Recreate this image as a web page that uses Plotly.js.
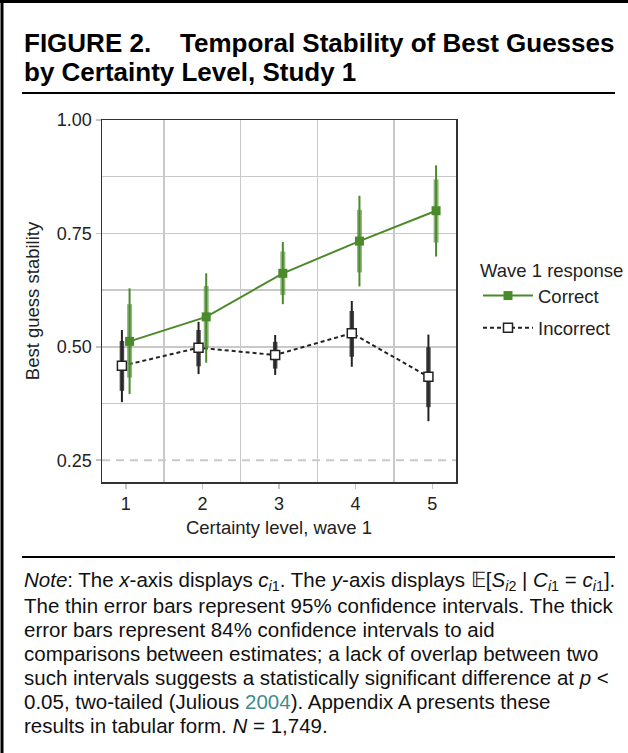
<!DOCTYPE html>
<html>
<head>
<meta charset="utf-8">
<script src="https://cdn.plot.ly/plotly-3.0.1.min.js"></script>
<style>html,body{margin:0;padding:0;background:#fff;}#chart{width:628px;height:753px;}</style>
</head>
<body>
<div id="chart"></div>
<script>
// ---- data ----
const certaintyLevels = [1, 2, 3, 4, 5];
const tickLabelsX = ["1", "2", "3", "4", "5"];
const tickValsY = [0.25, 0.50, 0.75, 1.00];
const tickLabelsY = ["0.25", "0.50", "0.75", "1.00"];

const correctMean  = [0.512, 0.566, 0.662, 0.733, 0.800];
const correctLo95  = [0.396, 0.465, 0.594, 0.633, 0.699];
const correctHi95  = [0.629, 0.662, 0.731, 0.833, 0.900];
const correctLo84  = [0.432, 0.498, 0.614, 0.664, 0.730];
const correctHi84  = [0.594, 0.634, 0.710, 0.802, 0.869];

const incorrectMean = [0.458, 0.498, 0.482, 0.530, 0.434];
const incorrectLo95 = [0.378, 0.440, 0.438, 0.456, 0.336];
const incorrectHi95 = [0.537, 0.555, 0.526, 0.601, 0.527];
const incorrectLo84 = [0.403, 0.457, 0.452, 0.478, 0.367];
const incorrectHi84 = [0.513, 0.537, 0.511, 0.579, 0.499];

const dodge = 0.05;

// ---- layout geometry ----
const W = 628, H = 753;
const L = 102, R = 456, T = 120, B = 482;
const PW = R - L, PH = B - T;
const px = x => (x - L) / PW;
const py = y => (B - y) / PH;

const green = "#4b8a2b";
const greenThick = "rgba(75,138,43,0.62)";
const dark = "#222222";
const darkThick = "rgba(40,40,40,0.85)";

const xCorrect = certaintyLevels.map(v => v + dodge);
const xIncorrect = certaintyLevels.map(v => v - dodge);
const diffUp = (hi, m) => hi.map((h, i) => h - m[i]);
const diffDn = (lo, m) => lo.map((l, i) => m[i] - l);

function errTrace(x, m, lo, hi, color, thick) {
  return {
    type: "scatter", mode: "markers", x: x, y: m,
    marker: {opacity: 0, size: 2}, showlegend: false, hoverinfo: "skip",
    error_y: {type: "data", symmetric: false, array: diffUp(hi, m), arrayminus: diffDn(lo, m),
      color: color, thickness: thick, width: 0}
  };
}

const traces = [
  errTrace(xIncorrect, incorrectMean, incorrectLo95, incorrectHi95, dark, 2),
  errTrace(xIncorrect, incorrectMean, incorrectLo84, incorrectHi84, darkThick, 4.5),
  {
    type: "scatter", mode: "lines+markers", name: "Incorrect", legendrank: 2, legendgroup: "inc",
    x: xIncorrect, y: incorrectMean,
    line: {color: dark, width: 2, dash: "4px,3px"},
    marker: {symbol: "square", size: 9, color: "#ffffff", line: {color: dark, width: 1.5}}
  },
  errTrace(xCorrect, correctMean, correctLo95, correctHi95, green, 2),
  errTrace(xCorrect, correctMean, correctLo84, correctHi84, greenThick, 5),
  {
    type: "scatter", mode: "lines+markers", name: "Correct", legendrank: 1, legendgroup: "cor",
    x: xCorrect, y: correctMean,
    line: {color: green, width: 2},
    marker: {symbol: "square", size: 9, color: green}
  }
];

const font = "Liberation Sans, Arial, Helvetica, sans-serif";
const gridColor = "#c9c9c9";

const noteLines = [
  "<i>Note</i>: The <i>x</i>-axis displays <i>c</i><sub><i>i</i>1</sub>. The <i>y</i>-axis displays 𝔼[<i>S</i><sub><i>i</i>2</sub> | <i>C</i><sub><i>i</i>1</sub> = <i>c</i><sub><i>i</i>1</sub>].",
  "The thin error bars represent 95% confidence intervals. The thick",
  "error bars represent 84% confidence intervals to aid",
  "comparisons between estimates; a lack of overlap between two",
  "such intervals suggests a statistically significant difference at <i>p</i> <",
  "0.05, two-tailed (Julious <span style='color:#3f8c8c'>2004</span>). Appendix A presents these",
  "results in tabular form. <i>N</i> = 1,749."
];
const noteY = [581, 605, 629, 653, 677, 701, 725];

const annotations = [
  {text: "<b>FIGURE 2.    Temporal Stability of Best Guesses</b>", x: px(22), y: py(43), xref: "paper", yref: "paper",
   xanchor: "left", yanchor: "middle", showarrow: false, font: {family: font, size: 26, color: "#000"}},
  {text: "<b>by Certainty Level, Study 1</b>", x: px(22), y: py(72), xref: "paper", yref: "paper",
   xanchor: "left", yanchor: "middle", showarrow: false, font: {family: font, size: 26, color: "#000"}}
].concat(noteLines.map((t, i) => ({
  text: t, x: px(22), y: py(noteY[i]), xref: "paper", yref: "paper",
  xanchor: "left", yanchor: "middle", showarrow: false, font: {family: font, size: 20.5, color: "#111"}
})));

const shapes = [
  {type: "line", xref: "paper", yref: "paper", x0: px(0), x1: px(628), y0: py(1.5), y1: py(1.5), line: {color: "#000", width: 3}},
  {type: "line", xref: "paper", yref: "paper", x0: px(2), x1: px(2), y0: py(0), y1: py(753), line: {color: "#000", width: 3}},
  {type: "line", xref: "paper", yref: "paper", x0: px(22), x1: px(615), y0: py(93), y1: py(93), line: {color: "#000", width: 2}},
  {type: "line", xref: "paper", yref: "paper", x0: px(22), x1: px(615), y0: py(557), y1: py(557), line: {color: "#000", width: 2}},
  {type: "line", xref: "paper", yref: "y", x0: 0, x1: 1, y0: 0.25, y1: 0.25, layer: "below",
   line: {color: gridColor, width: 2, dash: "8px,6px"}}
];

const layout = {
  width: W, height: H,
  margin: {l: L, r: W - R, t: T, b: H - B, pad: 0, autoexpand: false},
  paper_bgcolor: "#fff", plot_bgcolor: "#fff",
  font: {family: font, size: 17, color: "#222"},
  showlegend: true,
  xaxis: {
    range: [0.69, 5.31], tickvals: certaintyLevels, ticktext: tickLabelsX,
    showgrid: false, zeroline: false, automargin: false,
    ticks: "outside", ticklen: 5, tickwidth: 1.5, tickcolor: "#c4c4c4",
    showline: true, mirror: true, linecolor: "#333", linewidth: 1.5,
    tickfont: {family: font, size: 18, color: "#222"},
    title: {text: "Certainty level, wave 1", font: {family: font, size: 18.5, color: "#222"}, standoff: 8},
    minor: {tickvals: [1.5, 2.5, 3.5, 4.5], showgrid: true, gridcolor: gridColor, gridwidth: 1.5, ticklen: 0}
  },
  yaxis: {
    range: [0.202, 1.0], tickvals: tickValsY, ticktext: tickLabelsY,
    showgrid: false, zeroline: false, automargin: false,
    ticks: "outside", ticklen: 5, tickwidth: 1.5, tickcolor: "#c4c4c4",
    showline: true, mirror: true, linecolor: "#333", linewidth: 1.5,
    tickfont: {family: font, size: 18, color: "#222"},
    title: {text: "Best guess stability", font: {family: font, size: 18.5, color: "#222"}, standoff: 12},
    minor: {tickvals: [0.375, 0.5, 0.625, 0.75, 0.875], showgrid: true, gridcolor: gridColor, gridwidth: 1.5, ticklen: 0}
  },
  legend: {
    x: px(478), y: py(253), xanchor: "left", yanchor: "top",
    traceorder: "grouped", itemwidth: 50,
    title: {text: "Wave 1 response", font: {family: font, size: 18.5, color: "#222"}},
    font: {family: font, size: 18.5, color: "#222"},
    bgcolor: "rgba(0,0,0,0)", borderwidth: 0, tracegroupgap: 5
  },
  annotations: annotations,
  shapes: shapes
};

Plotly.newPlot("chart", traces, layout, {staticPlot: true, displayModeBar: false});
</script>
</body>
</html>
